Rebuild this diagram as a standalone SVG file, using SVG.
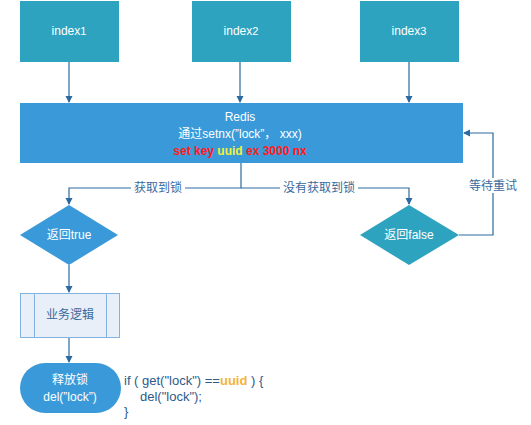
<svg xmlns="http://www.w3.org/2000/svg" width="531" height="425" viewBox="0 0 531 425">
<defs>
<style>
text{font-family:"Liberation Sans","Noto Sans CJK SC",sans-serif;font-size:12px}
.w{fill:#ffffff}
.c{stroke:#2b6aa0;stroke-width:1.2;fill:none}
.lab{fill:#3a6a9c}
.code{fill:#2c5a8a;font-size:13px}
</style>
<marker id="a" markerWidth="8" markerHeight="8" refX="6" refY="4" orient="auto" markerUnits="userSpaceOnUse">
<path d="M0,0.5 L7,4 L0,7.5 Z" fill="#2b6aa0"/>
</marker>
</defs>
<rect width="531" height="425" fill="#ffffff"/>
<g id="connectors">
<line class="c" x1="69" y1="62" x2="69" y2="102" marker-end="url(#a)"/>
<line class="c" x1="240" y1="62" x2="240" y2="102" marker-end="url(#a)"/>
<line class="c" x1="409" y1="62" x2="409" y2="102" marker-end="url(#a)"/>
<polyline class="c" points="241,163 241,188 69,188 69,204" marker-end="url(#a)"/>
<polyline class="c" points="241,188 409,188 409,204" marker-end="url(#a)"/>
<rect x="131" y="180" width="54" height="15" fill="#ffffff"/>
<text class="lab" x="158" y="192" text-anchor="middle">获取到锁</text>
<rect x="280" y="180" width="78" height="15" fill="#ffffff"/>
<text class="lab" x="319" y="192" text-anchor="middle">没有获取到锁</text>
<polyline class="c" points="459,235 493,235 493,133 464,133" marker-end="url(#a)"/>
<rect x="466" y="178" width="54" height="15" fill="#ffffff"/>
<text class="lab" x="493" y="190" text-anchor="middle">等待重试</text>
<line class="c" x1="69" y1="265" x2="69" y2="292" marker-end="url(#a)"/>
<line class="c" x1="69" y1="337" x2="69" y2="362" marker-end="url(#a)"/>
</g>
<g id="index1">
<rect x="20" y="1" width="99" height="61" fill="#2ea3bf"/>
<text class="w" x="69" y="35" text-anchor="middle">index<tspan font-size="11">1</tspan></text>
</g>
<g id="index2">
<rect x="192" y="1" width="99" height="61" fill="#2ea3bf"/>
<text class="w" x="241" y="35" text-anchor="middle">index<tspan font-size="11">2</tspan></text>
</g>
<g id="index3">
<rect x="360" y="1" width="99" height="61" fill="#2ea3bf"/>
<text class="w" x="409" y="35" text-anchor="middle">index<tspan font-size="11">3</tspan></text>
</g>
<g id="redis">
<rect x="20" y="103" width="443" height="60" fill="#3a9ad9"/>
<text class="w" x="240" y="121" text-anchor="middle">Redis</text>
<text class="w" x="240" y="138" text-anchor="middle">通过setnx(”lock”， xxx)</text>
<text x="240" y="155" text-anchor="middle" font-weight="bold" font-size="13" fill="#ff1a1a">set key <tspan fill="#f0f040">uuid</tspan> ex 3000 nx</text>
</g>
<g id="true">
<polygon points="69,205 118,235 69,265 20,235" fill="#3a9ad9"/>
<text class="w" x="69" y="239" text-anchor="middle">返回true</text>
</g>
<g id="false">
<polygon points="409,205 459,235 409,265 360,235" fill="#2ea3bf"/>
<text class="w" x="409" y="239" text-anchor="middle">返回false</text>
</g>
<g id="business">
<rect x="20.5" y="293.5" width="99" height="44" fill="#e8eff9" stroke="#82b2e0"/>
<line x1="34.5" y1="293.5" x2="34.5" y2="337.5" stroke="#82b2e0"/>
<line x1="106.5" y1="293.5" x2="106.5" y2="337.5" stroke="#82b2e0"/>
<text x="70" y="319" text-anchor="middle" fill="#3a6a9c">业务逻辑</text>
</g>
<g id="release">
<rect x="20" y="363" width="101" height="50" rx="25" ry="25" fill="#3a9ad9"/>
<text class="w" x="70" y="384" text-anchor="middle">释放锁</text>
<text class="w" x="70" y="401" text-anchor="middle">del(”lock”)</text>
</g>
<g id="code">
<text class="code" x="124" y="385">if ( get("lock") ==<tspan fill="#f5b43c" font-weight="bold">uuid</tspan> ) {</text>
<text class="code" x="140" y="401">del("lock");</text>
<text class="code" x="124" y="416">}</text>
</g>
</svg>
